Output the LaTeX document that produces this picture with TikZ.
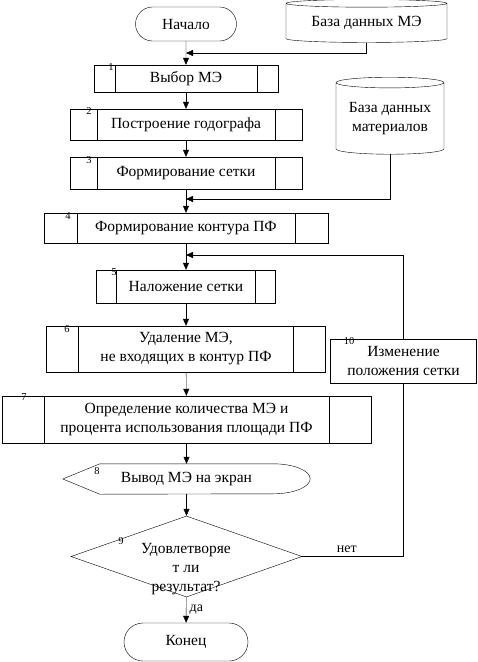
\documentclass[tikz,border=0pt]{standalone}
\usepackage{fontspec}
\setmainfont{Liberation Serif}
\usetikzlibrary{arrows.meta,shapes.geometric,shapes.misc}
\tikzset{barw/.initial=20pt}

\begin{document}
\begin{tikzpicture}[x=1pt,y=-1pt,
  every node/.style={font=\fontsize{15.5}{19}\selectfont,align=center},
  term/.style={draw,rounded rectangle,minimum width=#1,minimum height=34pt,inner sep=0pt},
  dbase/.style={draw,cylinder,shape border rotate=90,aspect=0.07,inner sep=0pt},
  proc/.style={draw,rectangle,inner sep=0pt},
  subproc/.style={proc,path picture={
    \draw ([xshift=\pgfkeysvalueof{/tikz/barw}]path picture bounding box.north west) --
          ([xshift=\pgfkeysvalueof{/tikz/barw}]path picture bounding box.south west);
    \draw ([xshift=-\pgfkeysvalueof{/tikz/barw}]path picture bounding box.north east) --
          ([xshift=-\pgfkeysvalueof{/tikz/barw}]path picture bounding box.south east);}},
  numlbl/.style={font=\fontsize{10.5}{12}\selectfont,inner sep=0pt},
  arr/.style={-{Triangle[length=7pt,width=6pt]}}]
  \useasboundingbox (0,0) rectangle (478,662);
  \node[term=101pt] (start) at (186,24) {Начало};
  \node[dbase,minimum width=161pt,minimum height=43pt] (dbme) at (366.5,23) {База данных МЭ};
  \node[subproc,barw=21pt,minimum width=184pt,minimum height=27pt] (b1) at (186,78.5) {Выбор МЭ};
  \node[subproc,barw=27pt,minimum width=232pt,minimum height=31pt] (b2) at (186,124.5) {Построение годографа};
  \node[subproc,barw=27pt,minimum width=232pt,minimum height=32pt] (b3) at (186,173) {Формирование сетки};
  \node[dbase,aspect=0.13,minimum width=108pt,minimum height=77pt] (dbmat) at (390,118.5) {База данных\\материалов};
  \node[subproc,barw=33pt,minimum width=284pt,minimum height=30pt] (b4) at (186,228) {Формирование контура ПФ};
  \node[subproc,barw=20pt,minimum width=179pt,minimum height=33pt] (b5) at (186,286.5) {Наложение сетки};
  \node[subproc,barw=32pt,minimum width=279pt,minimum height=46pt] (b6) at (186,349) {Удаление МЭ,\\не входящих в контур ПФ};
  \node[subproc,barw=42pt,minimum width=369pt,minimum height=47pt] (b7) at (186.5,419.5) {Определение количества МЭ и\\процента использования площади ПФ};
  \node[proc,minimum width=146pt,minimum height=44pt] (b10) at (403.5,361) {Изменение\\положения сетки};
  \node[minimum width=247pt,minimum height=30pt,inner sep=0pt] (out) at (186.5,479) {Вывод МЭ на экран};
  \draw (out.west) -- ([xshift=37pt]out.north west) -- ([xshift=-37pt]out.north east)
    arc[start angle=90,end angle=-90,x radius=37pt,y radius=15pt] -- ([xshift=37pt]out.south west) -- cycle;
  \node[draw,diamond,minimum width=231pt,minimum height=81pt,inner sep=0pt] (dec) at (186.5,556.5) {};
  \node (dectxt) at (186,569) {Удовлетворяе\\т ли\\результат?};
  \node[term=124pt,minimum height=38pt] (end) at (186,642) {Конец};
  \node[numlbl] (n1) at (111,67) {1};
  \node[numlbl] (n2) at (89,111) {2};
  \node[numlbl] (n3) at (89,160) {3};
  \node[numlbl] (n4) at (68,216) {4};
  \node[numlbl] (n5) at (114,272) {5};
  \node[numlbl] (n6) at (67,329) {6};
  \node[numlbl] (n7) at (24,397) {7};
  \node[numlbl] (n8) at (97,471) {8};
  \node[numlbl] (n9) at (121,541) {9};
  \node[numlbl] (n10) at (349,341) {10};
  \coordinate (m1) at (186,53);
  \coordinate (m2) at (186,199);
  \coordinate (m3) at (186,255);
  \draw[arr] (start) -- (b1);
  \draw[arr] (dbme.south) |- (m1);
  \draw[arr] (b1) -- (b2);
  \draw[arr] (b2) -- (b3);
  \draw[arr] (b3) -- (b4);
  \draw[arr] (dbmat.south) |- (m2);
  \draw[arr] (b4) -- (b5);
  \draw[arr] (b5) -- (b6);
  \draw[arr] (b6) -- (b7);
  \draw[arr] (b7) -- (out);
  \draw[arr] (out) -- (dec);
  \draw[arr] (dec) -- (end) node[midway,right,font=\fontsize{14}{16}\selectfont]{да};
  \draw (dec.east) -| (b10.south) node[pos=0.22,above,font=\fontsize{14}{16}\selectfont]{нет};
  \draw[arr] (b10.north) |- (m3);
\end{tikzpicture}
\end{document}
